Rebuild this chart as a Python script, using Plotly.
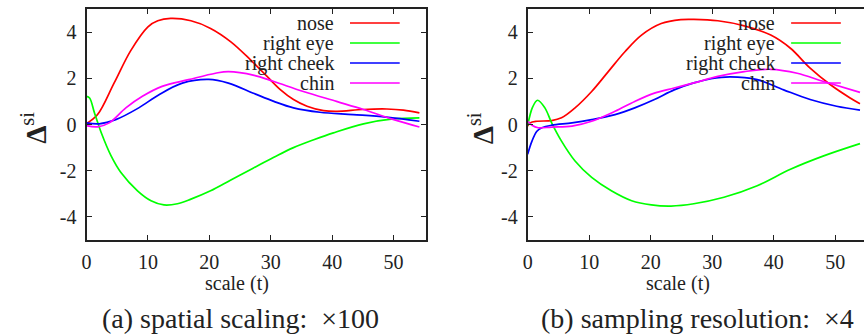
import plotly.graph_objects as go

W, H = 864, 336

# ---------------- data ----------------
# (a) spatial scaling x100
a_nose_t = [0, 1.8, 4.5, 7.2, 10, 11.6, 13.7, 17, 20.2, 23.5, 26.7, 29.4, 31.6, 33.7, 35.9, 38.6, 40.8, 45, 48.9, 51.6, 54.2]
a_nose_v = [0.04, 0.43, 1.8, 3.2, 4.23, 4.49, 4.59, 4.49, 4.16, 3.58, 2.8, 2.08, 1.5, 1.08, 0.79, 0.6, 0.57, 0.65, 0.67, 0.62, 0.5]

a_eye_t = [0, 0.5, 1.3, 2.4, 4, 5.6, 8.3, 10.5, 12.6, 14.8, 17, 20.2, 23.5, 27.2, 30.5, 33.7, 37, 40.2, 45.1, 49.9, 54.2]
a_eye_v = [1.22, 1.15, 0.5, -0.36, -1.36, -2.08, -2.87, -3.3, -3.48, -3.43, -3.23, -2.87, -2.4, -1.88, -1.42, -1.0, -0.66, -0.36, 0.03, 0.24, 0.29]

a_cheek_t = [0, 2.05, 4.75, 8.5, 11.8, 15.6, 19.9, 23.1, 27.3, 30.5, 33.7, 38, 43.4, 48.8, 54.2]
a_cheek_v = [0.07, 0.03, 0.21, 0.72, 1.29, 1.79, 1.95, 1.79, 1.34, 1.0, 0.72, 0.53, 0.43, 0.32, 0.14]

a_chin_t = [0, 1.8, 3.7, 6.4, 9.1, 12.3, 16.6, 21, 23.1, 27.3, 30.5, 35.3, 40.7, 45.1, 49.9, 54.2]
a_chin_v = [-0.05, -0.1, 0.07, 0.72, 1.22, 1.65, 1.94, 2.22, 2.29, 2.13, 1.86, 1.43, 1.0, 0.65, 0.22, -0.11]

# (b) sampling resolution x4
b_nose_t = [0, 0.4, 1.5, 3.9, 5.5, 7.7, 10.4, 13.1, 15.8, 18.5, 21.7, 24.9, 27.0, 30.9, 35.2, 39.5, 42.7, 45.9, 49.2, 52.4, 54.0]
b_nose_v = [-0.07, 0.07, 0.14, 0.17, 0.29, 0.72, 1.43, 2.29, 3.15, 3.87, 4.37, 4.54, 4.55, 4.49, 4.27, 3.87, 3.3, 2.44, 1.72, 1.15, 0.9]

b_eye_t = [0, 0.8, 1.6, 2.8, 3.9, 5.5, 7.7, 10.4, 13.6, 16.9, 20.1, 23.3, 27.0, 31.9, 37.3, 42.7, 48.1, 54.0]
b_eye_v = [-0.05, 0.75, 1.05, 0.72, 0.07, -0.72, -1.58, -2.29, -2.87, -3.3, -3.48, -3.53, -3.43, -3.15, -2.65, -1.94, -1.36, -0.83]

b_cheek_t = [0, 0.7, 1.5, 2.3, 3.9, 7.2, 10.4, 14.2, 17.4, 20.6, 23.8, 27.0, 29.8, 32.9, 37.3, 41.6, 45.9, 50.2, 54.0]
b_cheek_v = [-1.29, -0.72, -0.29, -0.14, -0.03, 0.07, 0.21, 0.43, 0.72, 1.08, 1.5, 1.8, 1.98, 2.06, 1.94, 1.5, 1.08, 0.79, 0.62]

b_chin_t = [0, 0.7, 1.7, 3.9, 7.2, 10.4, 14.2, 17.4, 20.6, 23.8, 27.0, 30.9, 35.2, 39.5, 43.8, 48.1, 54.0]
b_chin_v = [0.14, -0.03, -0.14, -0.11, -0.07, 0.14, 0.57, 1.0, 1.36, 1.58, 1.8, 2.08, 2.29, 2.39, 2.22, 1.86, 1.39]

series_names = ["nose", "right eye", "right cheek", "chin"]
series_colors = ["#ff0000", "#00ff00", "#0000ff", "#ff00ff"]
x_ticks = [0, 10, 20, 30, 40, 50]
y_ticks = [-4, -2, 0, 2, 4]
y_ticktext = ["-4", "-2", "0", "2", "4"]
captions = ["(a) spatial scaling:&nbsp;&nbsp;\u00d7100", "(b) sampling resolution:&nbsp;&nbsp;\u00d74"]

panel_a = [(a_nose_t, a_nose_v), (a_eye_t, a_eye_v), (a_cheek_t, a_cheek_v), (a_chin_t, a_chin_v)]
panel_b = [(b_nose_t, b_nose_v), (b_eye_t, b_eye_v), (b_cheek_t, b_cheek_v), (b_chin_t, b_chin_v)]

SERIF = "Liberation Serif"

# ---------------- layout geometry (pixels) ----------------
def px(x):
    return x / W

def py(y):
    return 1 - y / H

plot_top, plot_bot = 9, 240
left_a, right_a = 82, 423
left_b = 525.7

fig = go.Figure()
for panel, (xa, ya) in zip([panel_a, panel_b], [("x", "y"), ("x2", "y2")]):
    for (t, v), name, col in zip(panel, series_names, series_colors):
        fig.add_trace(go.Scatter(x=t, y=v, mode="lines", name=name, xaxis=xa, yaxis=ya,
                                 line=dict(color=col, width=1.7, shape="spline", smoothing=1.0),
                                 showlegend=False, hoverinfo="skip"))

tickfont = dict(family=SERIF, size=20, color="#222")
common_x = dict(tickvals=x_ticks, ticks="inside", ticklen=5, tickwidth=1, tickcolor="#222",
                showline=True, linecolor="#222", linewidth=2, showgrid=False, zeroline=False,
                tickfont=tickfont, ticklabelstandoff=3)
common_y = dict(range=[-5, 5], tickvals=y_ticks, ticktext=y_ticktext, ticks="inside", ticklen=5,
                tickwidth=1, tickcolor="#222",
                showline=True, linecolor="#222", linewidth=2, showgrid=False, zeroline=False,
                tickfont=tickfont, ticklabelstandoff=4)

ydom = [py(plot_bot), py(plot_top)]
fig.update_layout(
    width=W, height=H, margin=dict(l=0, r=0, t=0, b=0),
    paper_bgcolor="white", plot_bgcolor="white",
    font=dict(family=SERIF, size=20, color="#222"),
    xaxis=dict(common_x, domain=[px(left_a), px(right_a)], range=[0, 55.2], anchor="y", mirror="ticks"),
    yaxis=dict(common_y, domain=ydom, anchor="x", mirror="ticks"),
    xaxis2=dict(common_x, domain=[px(left_b), 1.0], range=[0, (W - left_b) / 6.19], anchor="y2", mirror="ticks"),
    yaxis2=dict(common_y, domain=ydom, anchor="x2", mirror=False),
    # right-hand tick marks of panel (b); its border lies just outside the picture
    yaxis3=dict(range=[-5, 5], tickvals=y_ticks, ticks="inside", ticklen=4, tickwidth=1, tickcolor="#222",
                showticklabels=False, showline=False, showgrid=False, zeroline=False,
                overlaying="y2", side="right", anchor="free", position=1.0),
)

annotations = []
shapes = []
lab_font = dict(family=SERIF, size=20, color="#222")
for i, (left, cap_x, xl_x, ylab_x) in enumerate([(left_a, 237, 233, 29), (left_b, 697, 677, 479)]):
    # x axis title
    annotations.append(dict(x=px(xl_x), y=py(283), xref="paper", yref="paper", text="scale (t)",
                            showarrow=False, font=lab_font, xanchor="center", yanchor="middle"))
    # y axis title
    annotations.append(dict(x=px(ylab_x), y=py(128), xref="paper", yref="paper",
                            text="<b>\u0394</b><sup>si</sup>",
                            showarrow=False, textangle=-90, xanchor="center", yanchor="middle",
                            font=dict(family=SERIF, size=29, color="#222")))
    # caption
    annotations.append(dict(x=px(cap_x), y=py(318), xref="paper", yref="paper", text=captions[i],
                            showarrow=False, xanchor="center", yanchor="middle",
                            font=dict(family=SERIF, size=28, color="#222")))
    # legend (gnuplot style: text right aligned, then line sample)
    for k, (name, col) in enumerate(zip(series_names, series_colors)):
        yy = 23 + 20 * k
        annotations.append(dict(x=px(left + 251), y=py(yy), xref="paper", yref="paper", text=name,
                                showarrow=False, xanchor="right", yanchor="middle", font=lab_font))
        shapes.append(dict(type="line", xref="paper", yref="paper",
                           x0=px(left + 265), x1=px(left + 315), y0=py(yy), y1=py(yy),
                           line=dict(color=col, width=1.7), layer="above"))

fig.update_layout(annotations=annotations, shapes=shapes)
fig.write_html("out.html")
